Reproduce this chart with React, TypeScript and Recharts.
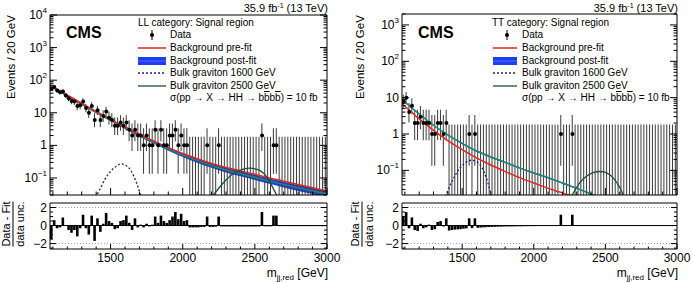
import React from 'react';
import { ComposedChart, XAxis, YAxis, Bar, Line, Area, Scatter, ReferenceLine } from 'recharts';

// 20 GeV bins, centres
const binCenters = [
  1090, 1110, 1130, 1150, 1170, 1190, 1210, 1230, 1250, 1270, 1290, 1310,
  1330, 1350, 1370, 1390, 1410, 1430, 1450, 1470, 1490, 1510, 1530, 1550,
  1570, 1590, 1610, 1630, 1650, 1670, 1690, 1710, 1730, 1750, 1770, 1790,
  1810, 1830, 1850, 1870, 1890, 1910, 1930, 1950, 1970, 1990, 2010, 2030,
  2050, 2070, 2090, 2110, 2130, 2150, 2170, 2190, 2210, 2230, 2250, 2270,
  2290, 2310, 2330, 2350, 2370, 2390, 2410, 2430, 2450, 2470, 2490, 2510,
  2530, 2550, 2570, 2590, 2610, 2630, 2650, 2670, 2690, 2710, 2730, 2750,
  2770, 2790, 2810, 2830, 2850, 2870, 2890, 2910, 2930, 2950, 2970, 2990,
];

const llCounts = [
  54, 62, 48, 43, 45, 34, 28, 23, 22, 16, 17, 22,
  14, 10, 16, 6, 12, 6, 8, 11, 7, 6, 4, 4,
  5, 4, 5, 3, 2, 3, 2, 2, 1, 2, 1, 1,
  3, 1, 3, 1, 1, 2, 2, 3, 1, 2, 1, 1,
  0, 0, 0, 0, 0, 0, 1, 0, 0, 0, 1, 0,
  0, 0, 0, 0, 0, 0, 0, 0, 0, 0, 0, 0,
  0, 2, 0, 0, 0, 1, 1, 0, 0, 0, 0, 0,
  0, 0, 0, 0, 0, 0, 0, 0, 0, 0, 0, 0,
];

const ttCounts = [
  8, 10, 4, 6, 2, 2, 3, 2, 2, 2, 1, 1,
  2, 2, 1, 2, 0, 0, 0, 0, 0, 0, 0, 1,
  0, 1, 0, 0, 0, 0, 0, 0, 0, 0, 0, 0,
  0, 0, 0, 0, 0, 0, 0, 0, 0, 0, 0, 0,
  0, 0, 0, 0, 0, 0, 0, 1, 0, 0, 0, 1,
  0, 0, 0, 0, 0, 0, 0, 0, 0, 0, 0, 0,
  0, 0, 0, 0, 0, 0, 0, 0, 0, 0, 0, 0,
  0, 0, 0, 0, 0, 0, 0, 0, 0, 0, 0, 0,
];

// (data - fit) / data unc.
const llPull = [
  -1.5, 0.6, -0.3, -0.2, 0.9, 0.0, -0.5, -0.8, -0.5, -1.2, -0.3, 1.2,
  -0.3, -1.0, 1.1, -1.7, 0.8, -0.7, 0.2, 1.4, 0.5, 0.3, -0.4, -0.3,
  0.5, 0.6, 1.1, 0.3, -0.5, 0.8, -0.2, 0.1, -0.2, 0.2, -0.1, 0.1,
  1.0, 0.3, 1.1, 0.5, 0.3, 0.6, 1.0, 1.5, 0.7, 1.3, 0.5, 0.6,
  -0.2, -0.2, -0.2, -0.2, -0.15, -0.15, 1.0, -0.15, -0.15, -0.12, 1.0, -0.1,
  -0.1, -0.1, -0.1, -0.1, -0.1, -0.1, -0.1, -0.1, -0.1, -0.1, -0.1, -0.1,
  -0.1, 1.5, -0.08, -0.08, -0.08, 1.1, 1.1, -0.06, -0.06, -0.06, -0.06, -0.06,
  -0.06, -0.06, -0.06, -0.06, -0.06, -0.06, -0.06, -0.06, -0.06, -0.06, -0.06, -0.06,
];

const ttPull = [
  1.0, 1.5, -0.3, 0.9, -0.5, -0.6, 0.2, -0.3, -0.2, 0.1, -0.5, -0.4,
  0.4, 0.5, -0.1, 0.8, -0.55, -0.5, -0.45, -0.42, -0.4, -0.35, -0.32, 0.8,
  -0.28, 0.8, -0.25, -0.22, -0.2, -0.18, -0.16, -0.15, -0.14, -0.13, -0.12, -0.11,
  -0.1, -0.1, -0.09, -0.09, -0.08, -0.08, -0.07, -0.07, -0.06, -0.06, -0.06, -0.05,
  -0.05, -0.05, -0.05, -0.05, -0.04, -0.04, -0.04, 1.2, -0.04, -0.04, -0.04, 1.2,
  -0.03, -0.03, -0.03, -0.03, -0.03, -0.03, -0.03, -0.03, -0.03, -0.03, -0.03, -0.03,
  -0.03, -0.03, -0.03, -0.03, -0.03, -0.03, -0.03, -0.03, -0.03, -0.03, -0.03, -0.03,
  -0.03, -0.03, -0.03, -0.03, -0.03, -0.03, -0.03, -0.03, -0.03, -0.03, -0.03, -0.03,
];

// background curves (read every 100 GeV)
const llMass = [1080, 1200, 1300, 1400, 1500, 1600, 1700, 1800, 1900, 2000, 2100, 2200, 2300, 2400, 2500, 2600, 2700, 2800, 2900, 3000];
const llPreFit = [70, 35, 19.5, 11, 6.3, 3.7, 2.2, 1.35, 0.85, 0.56, 0.39, 0.28, 0.21, 0.165, 0.13, 0.1, 0.08, 0.063, 0.05, 0.04];
const llPostFit = [68, 33, 18.5, 10.3, 6.0, 3.5, 2.05, 1.25, 0.77, 0.5, 0.34, 0.24, 0.175, 0.135, 0.105, 0.08, 0.063, 0.05, 0.04, 0.032];
const llPostLo = [64, 31, 17.3, 9.6, 5.55, 3.2, 1.86, 1.12, 0.68, 0.44, 0.295, 0.205, 0.148, 0.113, 0.087, 0.066, 0.051, 0.04, 0.032, 0.025];
const llPostHi = [72, 35, 19.7, 11, 6.45, 3.8, 2.25, 1.39, 0.87, 0.57, 0.39, 0.28, 0.205, 0.16, 0.125, 0.096, 0.077, 0.061, 0.049, 0.04];

const ttMass = [1080, 1200, 1300, 1400, 1500, 1600, 1700, 1800, 1900, 2000, 2100, 2200, 2300, 2400, 2500];
const ttPreFit = [6.9, 2.6, 1.26, 0.66, 0.37, 0.22, 0.14, 0.093, 0.063, 0.045, 0.032, 0.024, 0.018, 0.014, 0.011];
const ttPostFit = [8.9, 3.55, 1.74, 0.95, 0.55, 0.34, 0.234, 0.166, 0.117, 0.085, 0.063, 0.045, 0.032, 0.0224, 0.016];
const ttPostLo = [8.5, 3.4, 1.67, 0.91, 0.525, 0.325, 0.224, 0.159, 0.112, 0.081, 0.06, 0.043, 0.0305, 0.0213, 0.0152];
const ttPostHi = [9.3, 3.7, 1.81, 0.99, 0.575, 0.355, 0.244, 0.173, 0.122, 0.089, 0.066, 0.047, 0.0335, 0.0235, 0.0168];

// signals
const llSig1600Mass = [1380, 1420, 1460, 1500, 1540, 1570, 1600, 1640, 1680, 1710, 1740];
const llSig1600 = [0.02, 0.04, 0.09, 0.16, 0.23, 0.27, 0.25, 0.17, 0.07, 0.028, 0.01];
const llSig2500Mass = [2180, 2220, 2280, 2340, 2400, 2460, 2520, 2580, 2630, 2660, 2700];
const llSig2500 = [0.02, 0.033, 0.07, 0.125, 0.175, 0.2, 0.18, 0.11, 0.045, 0.025, 0.01];
const ttSig1600Mass = [1360, 1400, 1440, 1480, 1520, 1560, 1600, 1640, 1680, 1700, 1730];
const ttSig1600 = [0.012, 0.028, 0.06, 0.11, 0.16, 0.19, 0.175, 0.115, 0.045, 0.022, 0.008];
const ttSig2500Mass = [2230, 2270, 2320, 2370, 2420, 2460, 2500, 2550, 2600, 2630, 2660];
const ttSig2500 = [0.014, 0.022, 0.045, 0.07, 0.088, 0.093, 0.088, 0.065, 0.034, 0.019, 0.01];

const xTicks = [1100, 1200, 1300, 1400, 1500, 1600, 1700, 1800, 1900, 2000, 2100, 2200, 2300, 2400, 2500, 2600, 2700, 2800, 2900, 3000];
const xMajor = [1500, 2000, 2500, 3000];
const pullTicks = [-2.5, -2, -1.5, -1, -0.5, 0, 0.5, 1, 1.5, 2];

type YLabel = { v: number; b: string; e?: string };
const llYLabels: YLabel[] = [
  { v: 0.1, b: '10', e: '−1' }, { v: 1, b: '1' }, { v: 10, b: '10' },
  { v: 100, b: '10', e: '2' }, { v: 1000, b: '10', e: '3' }, { v: 10000, b: '10', e: '4' },
];
const ttYLabels: YLabel[] = llYLabels.slice(0, 5);
const pullLabels: YLabel[] = [{ v: 2, b: '2' }, { v: 0, b: '0' }, { v: -2, b: '−2' }];

const legendLabels = ['Data', 'Background pre-fit', 'Background post-fit', 'Bulk graviton 1600 GeV', 'Bulk graviton 2500 GeV'];

const FONT = '"Liberation Sans", Arial, Helvetica, sans-serif';
const RED = '#e8231f';
const BAND = '#1e3cf0';
const POST = '#1d8a6e';
const SIG1600 = '#222277';
const SIG2500 = '#1d4f3d';
const ERR = '#3a3a3a';

const X_DOMAIN: [number, number] = [1080, 3000];
const PULL_DOMAIN: [number, number] = [-2.6, 2.5];

function logTicks(min: number, max: number) {
  const out: number[] = [];
  for (let k = -3; k <= 4; k++) {
    for (let m = 1; m <= 9; m++) {
      const v = Number((m * Math.pow(10, k)).toPrecision(6));
      if (v >= min * 0.9999 && v <= max * 1.0001) out.push(v);
    }
  }
  return out;
}

const findLabel = (labels: YLabel[], v: number) =>
  labels.find((l) => Math.abs(l.v - v) <= 1e-6 * Math.abs(l.v) + 1e-9);

const yTick = (labels: YLabel[], dir: number, showText: boolean, major: number, minor: number) =>
  (p: any) => {
    const { x, y, payload } = p;
    const lab = findLabel(labels, Number(payload.value));
    const len = lab ? major : minor;
    return (
      <g>
        <line x1={x} y1={y} x2={x + dir * len} y2={y} stroke="#000" strokeWidth={1} />
        {showText && lab && (
          <text x={x - 3} y={y} textAnchor="end" dominantBaseline="central" fontSize={12} fontFamily={FONT} fill="#000">
            {lab.b}
            {lab.e && <tspan fontSize={8} dy={-5}>{lab.e}</tspan>}
          </text>
        )}
      </g>
    );
  };

const xTick = (dir: number, showText: boolean, major: number, minor: number) =>
  (p: any) => {
    const { x, y, payload } = p;
    const v = Number(payload.value);
    const isMajor = xMajor.includes(v);
    return (
      <g>
        <line x1={x} y1={y} x2={x} y2={y + dir * (isMajor ? major : minor)} stroke="#000" strokeWidth={1} />
        {showText && isMajor && (
          <text x={x} y={y + 13} textAnchor="middle" fontSize={12} fontFamily={FONT} fill="#000">{v}</text>
        )}
      </g>
    );
  };

const errRange = (n: number, floor: number) =>
  n === 0 ? [floor, 1.84] : [Math.max(floor, n - Math.sqrt(n - 0.25)), n + Math.sqrt(n + 0.75) + 1];

const pts = (mass: number[], vals: number[]) => mass.map((x, i) => ({ x, y: vals[i] }));

interface PanelProps {
  left: number;
  width: number;
  plotLeft: number;
  plotRight: number;
  top: number;
  yMin: number;
  yMax: number;
  labels: YLabel[];
  counts: number[];
  pull: number[];
  mass: number[];
  pre: number[];
  post: number[];
  postLo: number[];
  postHi: number[];
  s1600: [number[], number[]];
  s2500: [number[], number[]];
}

// axes are 1px wide/high, margins compensate so the plot frame lands where wanted
const axisCommon = {
  allowDataOverflow: true,
  interval: 0 as const,
  tickSize: 0,
  tickMargin: 0,
  tickLine: false,
  axisLine: { stroke: '#000' },
};

function Panel(p: PanelProps) {
  const binData = binCenters.map((x, i) => ({ x, err: errRange(p.counts[i], p.yMin) }));
  const points = binCenters.map((x, i) => ({ x, y: p.counts[i] })).filter((d) => d.y > 0);
  const band = p.mass.map((x, i) => ({ x, band: [p.postLo[i], p.postHi[i]] }));
  const pullData = binCenters.map((x, i) => ({ x, pull: p.pull[i] }));
  const yTicks = logTicks(p.yMin, p.yMax);
  const right = p.width - p.plotRight;

  return (
    <>
      <div style={{ position: 'absolute', left: p.left, top: 0 }}>
        <ComposedChart width={p.width} height={200} data={binData}
          margin={{ top: p.top - 1, right: right - 1, bottom: 4, left: p.plotLeft - 1 }}>
          <XAxis dataKey="x" type="number" domain={X_DOMAIN} ticks={xTicks} height={1} {...axisCommon}
            tick={xTick(-1, false, 7, 3.5)} />
          <XAxis xAxisId="top" orientation="top" type="number" domain={X_DOMAIN} ticks={xTicks} height={1}
            {...axisCommon} tick={xTick(1, false, 7, 3.5)} />
          <YAxis scale="log" type="number" domain={[p.yMin, p.yMax]} ticks={yTicks} width={1} {...axisCommon}
            tick={yTick(p.labels, 1, true, 7, 3.5)} />
          <YAxis yAxisId="right" orientation="right" scale="log" type="number" domain={[p.yMin, p.yMax]}
            ticks={yTicks} width={1} {...axisCommon} tick={yTick(p.labels, -1, false, 7, 3.5)} />
          <Bar dataKey="err" barSize={1} fill={ERR} isAnimationActive={false} />
          <Area data={band} dataKey="band" type="monotone" stroke="none" fill={BAND} fillOpacity={1}
            isAnimationActive={false} />
          <Line data={pts(p.mass, p.post)} dataKey="y" type="monotone" stroke={POST} strokeWidth={1.5}
            dot={false} isAnimationActive={false} />
          <Line data={pts(p.mass, p.pre)} dataKey="y" type="monotone" stroke={RED} strokeWidth={1.5}
            dot={false} isAnimationActive={false} />
          <Line data={pts(p.s1600[0], p.s1600[1])} dataKey="y" type="monotone" stroke={SIG1600} strokeWidth={1.3}
            strokeDasharray="2 2" dot={false} isAnimationActive={false} />
          <Line data={pts(p.s2500[0], p.s2500[1])} dataKey="y" type="monotone" stroke={SIG2500} strokeWidth={1.3}
            dot={false} isAnimationActive={false} />
          <Scatter data={points} dataKey="y" isAnimationActive={false}
            shape={(s: any) => <circle cx={s.cx} cy={s.cy} r={2} fill="#000" />} />
        </ComposedChart>
      </div>
      <div style={{ position: 'absolute', left: p.left, top: 195 }}>
        <ComposedChart width={p.width} height={88} data={pullData}
          margin={{ top: 7, right: right - 1, bottom: 33, left: p.plotLeft - 1 }}>
          <XAxis dataKey="x" type="number" domain={X_DOMAIN} ticks={xTicks} height={1} {...axisCommon}
            tick={xTick(-1, true, 5, 2.5)} />
          <XAxis xAxisId="top" orientation="top" type="number" domain={X_DOMAIN} ticks={xTicks} height={1}
            {...axisCommon} tick={xTick(1, false, 5, 2.5)} />
          <YAxis type="number" domain={PULL_DOMAIN} ticks={pullTicks} width={1} {...axisCommon}
            tick={yTick(pullLabels, 1, true, 6, 3)} />
          <YAxis yAxisId="right" orientation="right" type="number" domain={PULL_DOMAIN} ticks={pullTicks}
            width={1} {...axisCommon} tick={yTick(pullLabels, -1, false, 6, 3)} />
          <ReferenceLine y={2} stroke="#999" strokeDasharray="1 2" />
          <ReferenceLine y={-2} stroke="#999" strokeDasharray="1 2" />
          <ReferenceLine y={0} stroke="#000" />
          <Bar dataKey="pull" barSize={2.9} fill="#000" isAnimationActive={false} />
        </ComposedChart>
      </div>
    </>
  );
}

const txt = (extra: React.CSSProperties): React.CSSProperties => ({
  position: 'absolute', fontFamily: FONT, color: '#000', whiteSpace: 'nowrap', lineHeight: 1, ...extra,
});

interface Geo {
  plotRight: number;
  yLabelX: number;
  cmsX: number;
  headX: number;
  textX: number;
  symX1: number;
  symX2: number;
  markX: number;
  category: string;
}

const rowY = [35, 48, 61, 73, 86, 98];

function Decorations({ g }: { g: Geo }) {
  const yc = (y: number): React.CSSProperties => ({ top: y, transform: 'translateY(-50%)' });
  return (
    <>
      <div style={txt({ right: 693 - g.plotRight - 1, ...yc(8), fontSize: 11 })}>
        35.9 fb<sup style={{ fontSize: 7, verticalAlign: 4 }}>-1</sup> (13 TeV)
      </div>
      <div style={txt({ left: g.cmsX, ...yc(33), fontSize: 16, fontWeight: 'bold' })}>CMS</div>
      <div style={txt({ left: g.yLabelX, top: 57, fontSize: 11.5, transform: 'translate(-50%,-50%) rotate(-90deg)' })}>
        Events / 20 GeV
      </div>
      <div style={txt({ left: g.yLabelX + 1, top: 224, fontSize: 11, textAlign: 'center',
        transform: 'translate(-50%,-50%) rotate(-90deg)' })}>
        <div style={{ borderBottom: '1px solid #000', paddingBottom: 1 }}>Data - Fit</div>
        <div style={{ paddingTop: 1 }}>data unc.</div>
      </div>
      <div style={txt({ right: 693 - g.plotRight - 1, ...yc(274), fontSize: 12 })}>
        m<sub style={{ fontSize: 8, verticalAlign: -3 }}>jj,red</sub> [GeV]
      </div>
      <div style={txt({ left: g.headX, ...yc(23), fontSize: 10 })}>{g.category}</div>
      {legendLabels.map((l, i) => (
        <div key={l} style={txt({ left: g.textX, ...yc(rowY[i]), fontSize: 10 })}>{l}</div>
      ))}
      <div style={txt({ left: g.textX, ...yc(rowY[5]), fontSize: 10 })}>
        σ(pp → X → HH → b<span style={{ textDecoration: 'overline' }}>b</span>b
        <span style={{ textDecoration: 'overline' }}>b</span>) = 10 fb
      </div>
      <svg width={693} height={283} style={{ position: 'absolute', left: 0, top: 0, pointerEvents: 'none' }}>
        <line x1={g.markX} x2={g.markX} y1={rowY[0] - 5} y2={rowY[0] + 5} stroke="#000" />
        <circle cx={g.markX} cy={rowY[0]} r={2} fill="#000" />
        <line x1={g.symX1} x2={g.symX2} y1={rowY[1]} y2={rowY[1]} stroke={RED} strokeWidth={1.5} />
        <rect x={g.symX1} y={rowY[2] - 4} width={g.symX2 - g.symX1} height={8} fill={BAND} />
        <line x1={g.symX1} x2={g.symX2} y1={rowY[2]} y2={rowY[2]} stroke="#4a6cff" strokeWidth={1} />
        <line x1={g.symX1} x2={g.symX2} y1={rowY[3]} y2={rowY[3]} stroke={SIG1600} strokeWidth={1.3} strokeDasharray="2 2" />
        <line x1={g.symX1} x2={g.symX2} y1={rowY[4]} y2={rowY[4]} stroke={SIG2500} strokeWidth={1.3} />
      </svg>
    </>
  );
}

export default function App() {
  return (
    <div style={{ position: 'absolute', left: 0, top: 0, width: 693, height: 283, background: '#fff', overflow: 'hidden' }}>
      <Panel left={0} width={345} plotLeft={50} plotRight={327} top={15} yMin={0.03} yMax={10000}
        labels={llYLabels} counts={llCounts} pull={llPull} mass={llMass} pre={llPreFit} post={llPostFit}
        postLo={llPostLo} postHi={llPostHi} s1600={[llSig1600Mass, llSig1600]} s2500={[llSig2500Mass, llSig2500]} />
      <Panel left={352} width={341} plotLeft={50} plotRight={325} top={14} yMin={0.021} yMax={2000}
        labels={ttYLabels} counts={ttCounts} pull={ttPull} mass={ttMass} pre={ttPreFit} post={ttPostFit}
        postLo={ttPostLo} postHi={ttPostHi} s1600={[ttSig1600Mass, ttSig1600]} s2500={[ttSig2500Mass, ttSig2500]} />
      <Decorations g={{ plotRight: 327, yLabelX: 12, cmsX: 66, headX: 138, textX: 170, symX1: 138, symX2: 166,
        markX: 152, category: 'LL category: Signal region' }} />
      <Decorations g={{ plotRight: 677, yLabelX: 361, cmsX: 418, headX: 492, textX: 522, symX1: 493, symX2: 517,
        markX: 507, category: 'TT category: Signal region' }} />
    </div>
  );
}
